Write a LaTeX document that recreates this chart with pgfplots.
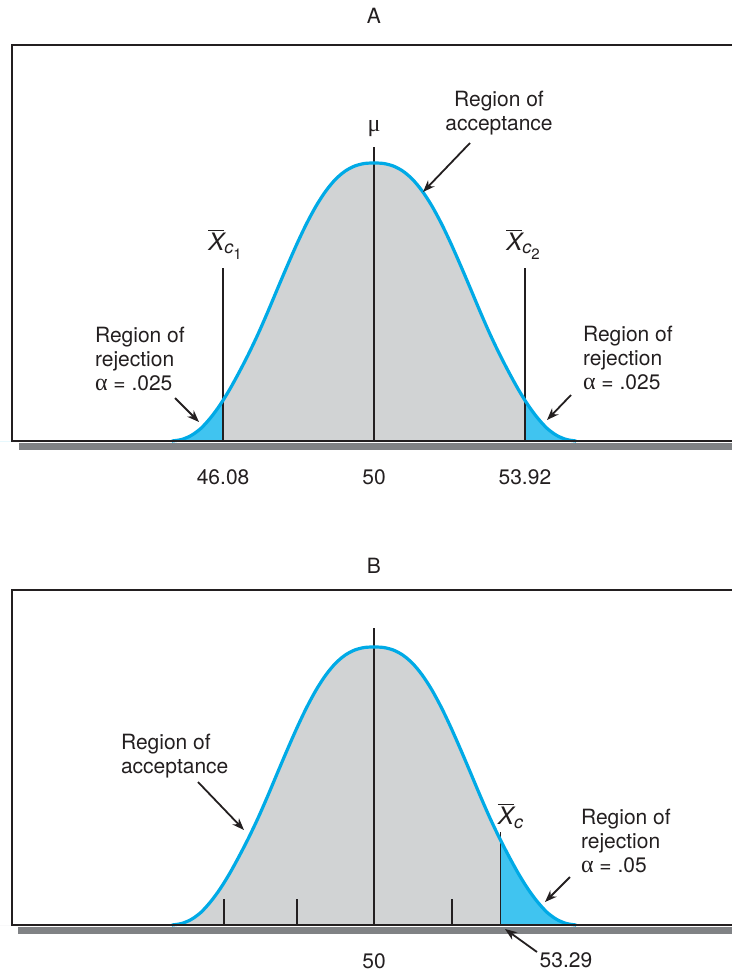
\documentclass[border=0pt]{standalone}
\usepackage{fontspec}
\setmainfont{TeX Gyre Heros}
\newfontfamily\grk{Liberation Serif}
\usepackage{pgfplots}
\usepackage{pgfplotstable}
\pgfplotsset{compat=1.18}
\usepgfplotslibrary{fillbetween}
\usetikzlibrary{arrows.meta}
\definecolor{ink}{HTML}{231F20}
\definecolor{graybg}{HTML}{D1D3D4}
\definecolor{tailc}{HTML}{40C4F0}
\definecolor{curvec}{HTML}{00AAE6}
\definecolor{shadowc}{HTML}{808285}

\pgfplotstableread{
x y
44.75 0
45.00 1.5
45.25 5.5
45.50 12.5
45.75 23
46.00 36
46.25 51.5
46.50 69
46.75 87.7
47.00 108
47.25 130
47.50 152.9
47.75 175.5
48.00 197.3
48.25 217.5
48.50 235.3
48.75 250.1
49.00 261.7
49.25 269.9
49.50 275
49.75 277.5
50.00 278
50.25 277.5
50.50 275
50.75 269.9
51.00 261.7
51.25 250.1
51.50 235.3
51.75 217.5
52.00 197.3
52.25 175.5
52.50 152.9
52.75 130
53.00 108
53.25 87.7
53.50 69
53.75 51.5
54.00 36
54.25 23
54.50 12.5
54.75 5.5
55.00 1.5
55.25 0
}\curvedata

\newcommand{\lbl}{\fontsize{10.5}{12}\selectfont}
\newcommand{\xbar}[1]{{\fontsize{12}{14}\selectfont$\overline{\mbox{\itshape X}}_{#1}$}}
\newcommand{\al}{{\grk\fontsize{12}{12}\selectfont α}}

\begin{document}
\begin{tikzpicture}[every node/.style={font=\lbl, text=ink}]

\pgfplotsset{
  panel/.style={
    anchor=south west, scale only axis, width=360pt,
    xmin=40.597, xmax=59.299, ymin=0,
    axis line style={draw=none}, ytick=\empty,
    major tick length=0pt, clip=false,
    xticklabel style={anchor=center, yshift=-18pt, font=\lbl, text=ink},
  },
  vline/.style={ink, line width=0.7pt, mark=none},
  bell/.style={curvec, line width=1.6pt, smooth, mark=none},
}

% ---------------- Panel A ----------------
\begin{axis}[panel, at={(6pt,-220.5pt)}, height=198pt, ymax=396,
  xtick={46.08,50,53.92}, xticklabels={46.08,50,53.92}]
  \addplot[name path=cA, draw=none, smooth] table {\curvedata};
  \addplot[name path=bA, draw=none] coordinates {(40,0) (60,0)};
  \addplot[graybg] fill between[of=cA and bA, soft clip={domain=46.08:53.92}];
  \addplot[tailc] fill between[of=cA and bA, soft clip={domain=40:46.08}];
  \addplot[tailc] fill between[of=cA and bA, soft clip={domain=53.92:60}];
  \addplot[vline] coordinates {(46.08,0) (46.08,173)};
  \addplot[vline] coordinates {(50,0) (50,294)};
  \addplot[vline] coordinates {(53.92,0) (53.92,173)};
  \addplot[bell] table {\curvedata};
\end{axis}

% ---------------- Panel B ----------------
\begin{axis}[panel, at={(6pt,-462.5pt)}, height=167.5pt, ymax=335,
  xtick={50}, xticklabels={50}]
  \addplot[name path=cB, draw=none, smooth] table {\curvedata};
  \addplot[name path=bB, draw=none] coordinates {(40,0) (60,0)};
  \addplot[graybg] fill between[of=cB and bB, soft clip={domain=40:53.29}];
  \addplot[tailc] fill between[of=cB and bB, soft clip={domain=53.29:60}];
  \addplot[vline] coordinates {(46.1,0) (46.1,26)};
  \addplot[vline] coordinates {(48,0) (48,26)};
  \addplot[vline] coordinates {(52.03,0) (52.03,26)};
  \addplot[vline] coordinates {(50,0) (50,297)};
  \addplot[vline] coordinates {(53.29,0) (53.29,93)};
  \addplot[bell] table {\curvedata};
\end{axis}

\begin{scope}[x=0.5pt, y=-0.5pt]
  % frames and shadows
  \fill[shadowc] (19,442.5) rectangle (740,450);
  \draw[ink, line width=0.75pt] (740,45) -- (12,45) -- (12,441) -- (740,441);
  \fill[shadowc] (18,926.5) rectangle (740,934);
  \draw[ink, line width=0.75pt] (740,590) -- (12,590) -- (12,925) -- (740,925);

  % Panel A annotations
  \node at (374,16) {A};
  \node at (374,129) {\grk\fontsize{12}{12}\selectfont μ};
  \node[align=center] at (499,113) {Region of\\acceptance};
  \draw[ink, line width=0.9pt, -{Stealth[length=6pt,width=4.5pt]}] (470,143) -- (423,192);
  \node[align=left, anchor=west] at (88,359) {Region of\\rejection\\\al{} = .025};
  \draw[ink, line width=0.9pt, -{Stealth[length=6pt,width=4.5pt]}] (175,398) -- (199,422);
  \node[align=left, anchor=west] at (576,358) {Region of\\rejection\\\al{} = .025};
  \draw[ink, line width=0.9pt, -{Stealth[length=6pt,width=4.5pt]}] (571,395) -- (547,420);
  \node at (226,244) {\xbar{\mbox{\fontsize{9}{10}\selectfont\itshape c}_{\mbox{\fontsize{7.5}{8}\selectfont 1}}}};
  \node at (524,244) {\xbar{\mbox{\fontsize{9}{10}\selectfont\itshape c}_{\mbox{\fontsize{7.5}{8}\selectfont 2}}}};

  % Panel B annotations
  \node at (374,566) {B};
  \node[align=left, anchor=west] at (114,756) {Region of\\acceptance};
  \draw[ink, line width=0.9pt, -{Stealth[length=6pt,width=4.5pt]}] (198,782) -- (244,830);
  \node[align=left, anchor=west] at (574,841) {Region of\\rejection\\\al{} = .05};
  \draw[ink, line width=0.9pt, -{Stealth[length=6pt,width=4.5pt]}] (570,877) -- (545,902);
  \node at (511,816) {\xbar{\mbox{\fontsize{9}{10}\selectfont\itshape c}}};
  \node at (566,960) {53.29};
  \draw[ink, line width=0.9pt, -{Stealth[length=6pt,width=4.5pt]}] (537,952) -- (505,929);
\end{scope}

\pgfresetboundingbox
\path[use as bounding box, x=0.5pt, y=-0.5pt] (0,0) rectangle (732,971);
\end{tikzpicture}
\end{document}
